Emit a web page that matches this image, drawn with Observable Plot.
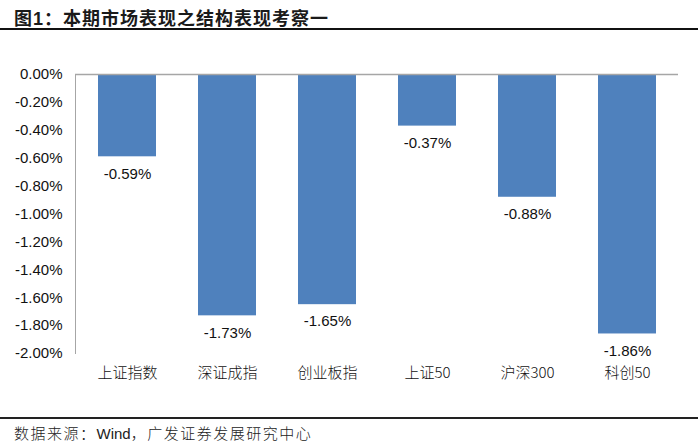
<!DOCTYPE html>
<html>
<head>
<meta charset="utf-8">
<script src="https://cdn.jsdelivr.net/npm/d3@7"></script>
<script src="https://cdn.jsdelivr.net/npm/@observablehq/plot@0.6"></script>
<style>
  html, body { margin: 0; padding: 0; background: #fff; width: 700px; height: 448px; overflow: hidden; }
  #title { position: absolute; left: 14px; top: 4px; font-family: "Noto Sans CJK SC", sans-serif; font-weight: 700; font-size: 18px; color: #1a1a1a; letter-spacing: 1px; white-space: nowrap; }
  #title .num { font-family: "Liberation Sans", Arial, sans-serif; }
  #topline { position: absolute; left: 0; top: 28px; width: 698px; height: 2px; background: #111; }
  #chart { position: absolute; left: 0; top: 40px; }
  #botline { position: absolute; left: 0; top: 417px; width: 698px; height: 2px; background: #222; }
  #caption { position: absolute; left: 14px; top: 422px; font-family: "Noto Sans CJK SC", sans-serif; font-weight: 300; font-size: 15px; color: #222; white-space: nowrap; letter-spacing: 1.5px; }
  #caption .lat { font-family: "Liberation Sans", Arial, sans-serif; font-weight: 400; letter-spacing: 0; }
</style>
</head>
<body>
<div id="title">图<span class="num">1</span>：本期市场表现之结构表现考察一</div>
<div id="topline"></div>
<div id="chart"></div>
<div id="botline"></div>
<div id="caption">数据来源：<span class="lat">Wind</span>，广发证券发展研究中心</div>
<script>
const categories = ["上证指数", "深证成指", "创业板指", "上证50", "沪深300", "科创50"];
const values = [-0.59, -1.73, -1.65, -0.37, -0.88, -1.86];
const yTicks = [0, -0.2, -0.4, -0.6, -0.8, -1.0, -1.2, -1.4, -1.6, -1.8, -2.0];

const data = categories.map((c, i) => ({category: c, value: values[i]}));
const fmt = d => (Math.abs(d) < 1e-9 ? 0 : d).toFixed(2) + "%";

const chart = Plot.plot({
  width: 700,
  height: 370,
  marginTop: 34,
  marginBottom: 57,
  marginLeft: 75,
  marginRight: 22,
  style: { fontFamily: "'Liberation Sans', Arial, sans-serif", fontSize: "15px", color: "#111", background: "#fff" },
  x: { domain: categories, paddingInner: 0.42, paddingOuter: 0.21, label: null, axis: null },
  y: { domain: [-2, 0], label: null, axis: null },
  marks: [
    Plot.barY(data, { x: "category", y1: 0, y2: "value", fill: "#4f81bd" }),
    Plot.frame({ anchor: "left", stroke: "#a6a6a6" }),
    Plot.ruleY([0], { stroke: "#a6a6a6", strokeWidth: 1.5 }),
    Plot.text(data, { x: "category", y: "value", text: d => fmt(d.value), dy: 17, fontSize: 15, fill: "#111" }),
    Plot.axisY(yTicks, { tickFormat: fmt, tickSize: 0, tickPadding: 13, fontSize: 15, label: null }),
    Plot.axisX({ anchor: "bottom", tickSize: 0, tickPadding: 14, fontSize: 15, fontFamily: "'Noto Sans CJK SC', sans-serif", fontWeight: 300, label: null })
  ]
});
document.getElementById("chart").appendChild(chart);
</script>
</body>
</html>
